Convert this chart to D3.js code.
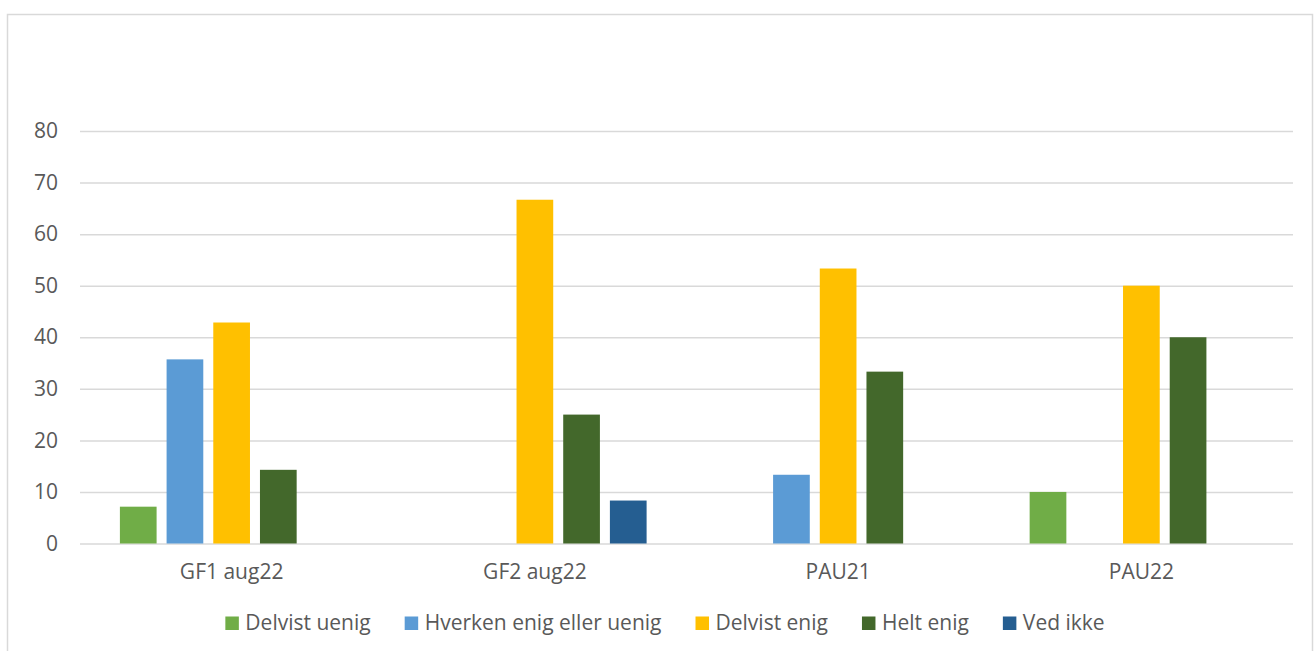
<!DOCTYPE html>
<html>
<head>
<meta charset="utf-8">
<script src="https://cdn.jsdelivr.net/npm/d3@7"></script>
<style>
  html, body { margin: 0; padding: 0; background: #fff; }
  svg { display: block; }
  text { font-family: "Open Sans", sans-serif; fill: #595959; }
</style>
</head>
<body>
<svg id="chart" width="1314" height="651"></svg>
<script>
const categories = ["GF1 aug22", "GF2 aug22", "PAU21", "PAU22"];
const seriesNames = ["Delvist uenig", "Hverken enig eller uenig", "Delvist enig", "Helt enig", "Ved ikke"];
const seriesColors = ["#70AD47", "#5B9BD5", "#FFC000", "#43682B", "#255E91"];
const delvistUenig = [7.14, 0, 0, 10];
const hverken = [35.71, 0, 13.33, 0];
const delvistEnig = [42.86, 66.67, 53.33, 50];
const heltEnig = [14.29, 25, 33.33, 40];
const vedIkke = [0, 8.33, 0, 0];
const yTicks = [0, 10, 20, 30, 40, 50, 60, 70, 80];

const seriesValues = [delvistUenig, hverken, delvistEnig, heltEnig, vedIkke];
const FS = 21;

const svg = d3.select("#chart");
const plot = { left: 80, right: 1293, top: 131, bottom: 543.5 };

// outer border
svg.append("rect")
  .attr("x", 7.5).attr("y", 14.5)
  .attr("width", 1305).attr("height", 660)
  .attr("fill", "none").attr("stroke", "#d9d9d9").attr("stroke-width", 1.5);

const y = d3.scaleLinear().domain([0, 80]).range([plot.bottom, plot.top]);
const x0 = d3.scaleBand().domain(categories).range([plot.left, plot.right]).padding(0);
const gw = x0.bandwidth();
const x1 = d3.scaleBand().domain(seriesNames).range([39.9, gw - 39.9]).paddingInner(0.214).paddingOuter(0);

// gridlines
const yAxis = d3.axisLeft(y).tickValues(yTicks).tickSize(-(plot.right - plot.left)).tickPadding(22);
const gy = svg.append("g").attr("transform", `translate(${plot.left},0)`).call(yAxis);
gy.select(".domain").remove();
gy.selectAll(".tick line").attr("stroke", "#d9d9d9").attr("stroke-width", 1.5);
gy.selectAll(".tick text").attr("font-size", FS).attr("fill", "#595959")
  .style("font-family", "'Open Sans', sans-serif");

// bars
const groups = svg.append("g").selectAll("g")
  .data(categories).join("g")
  .attr("transform", d => `translate(${x0(d)},0)`);

groups.selectAll("rect")
  .data((c, ci) => seriesNames.map((s, si) => ({ s, si, v: seriesValues[si][ci] })).filter(d => d.v > 0))
  .join("rect")
  .attr("x", d => x1(d.s))
  .attr("width", x1.bandwidth())
  .attr("y", d => y(d.v))
  .attr("height", d => y(0) - y(d.v))
  .attr("fill", d => seriesColors[d.si]);

// x axis labels
const xAxis = d3.axisBottom(x0).tickSize(0).tickPadding(21);
const gx = svg.append("g").attr("transform", `translate(0,${plot.bottom})`).call(xAxis);
gx.select(".domain").remove();
gx.selectAll(".tick text").attr("font-size", FS).attr("fill", "#595959")
  .style("font-family", "'Open Sans', sans-serif");

// legend
const legend = svg.append("g");
const items = legend.selectAll("g").data(seriesNames).join("g");
items.append("rect").attr("width", 13.5).attr("height", 13.5).attr("y", -13.5)
  .attr("fill", (d, i) => seriesColors[i]);
items.append("text").attr("x", 20).attr("y", 0).attr("font-size", FS).text(d => d);
const widths = [];
items.each(function () {
  const w = 20 + d3.select(this).select("text").node().getComputedTextLength();
  widths.push(w);
});
const gap = 34;
const total = d3.sum(widths) + gap * (widths.length - 1);
let start = 665 - total / 2;
items.attr("transform", (d, i) => {
  const t = `translate(${start},630)`;
  start += widths[i] + gap;
  return t;
});
</script>
</body>
</html>
